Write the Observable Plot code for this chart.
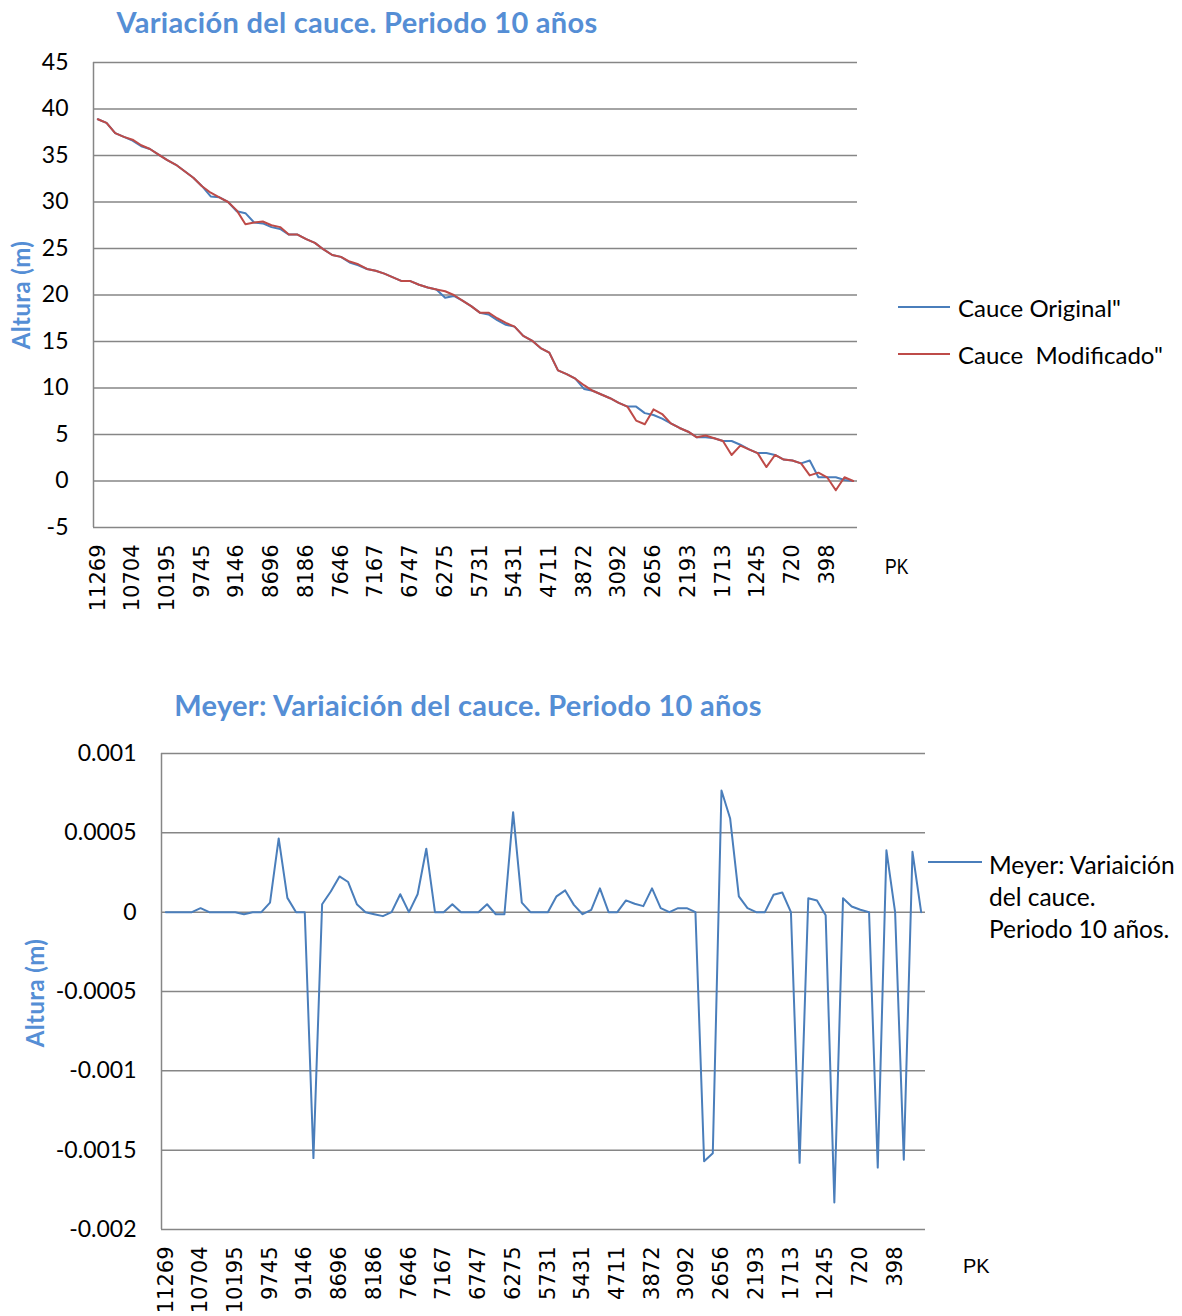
<!DOCTYPE html>
<html><head><meta charset="utf-8">
<script src="https://cdn.jsdelivr.net/npm/d3@7"></script>
<script src="https://cdn.jsdelivr.net/npm/@observablehq/plot@0.6"></script>
<style>
body{margin:0;background:#fff;}
#wrap{position:relative;width:1182px;height:1316px;overflow:hidden;}
#wrap svg{display:block;}
.t{position:absolute;font-family:Lato,"Open Sans",sans-serif;color:#000;white-space:nowrap;}
.title{font-weight:bold;font-size:29px;letter-spacing:0.3px;color:#558ED5;transform:translate(-50%,-50%);}
.ylab{font-weight:bold;font-size:24px;letter-spacing:0.4px;color:#558ED5;transform:translate(-50%,-50%) rotate(-90deg);}
.leg{font-size:24px;}
.sw{position:absolute;height:2px;}
</style></head><body><div id="wrap"></div>
<script>
// PK tick labels (every 4th category)
const pkLabels = ["11269","10704","10195","9745","9146","8696","8186","7646","7167","6747","6275","5731","5431","4711","3872","3092","2656","2193","1713","1245","720","398"];
const nCat = 88;

const cauceOriginal = [38.9,38.5,37.4,37.0,36.6,36.0,35.7,35.1,34.5,34.0,33.3,32.6,31.7,30.6,30.5,30.0,29.0,28.8,27.8,27.7,27.3,27.1,26.5,26.5,26.0,25.6,24.9,24.3,24.1,23.5,23.2,22.8,22.6,22.3,21.9,21.5,21.5,21.1,20.8,20.6,19.7,19.9,19.4,18.8,18.1,17.9,17.3,16.8,16.6,15.6,15.1,14.3,13.8,11.9,11.5,11.0,9.9,9.7,9.3,8.9,8.4,8.0,8.0,7.3,7.1,6.7,6.2,5.7,5.3,4.7,4.7,4.6,4.3,4.3,3.9,3.4,3.0,3.0,2.8,2.3,2.2,1.9,2.2,0.4,0.4,0.4,0.1,0.0];

const cauceModificado = [38.9,38.5,37.4,37.0,36.7,36.1,35.7,35.1,34.5,34.0,33.3,32.6,31.7,31.0,30.5,30.0,29.1,27.6,27.8,27.9,27.5,27.3,26.5,26.5,26.0,25.6,24.9,24.3,24.1,23.6,23.3,22.8,22.6,22.3,21.9,21.5,21.5,21.1,20.8,20.6,20.4,20.0,19.4,18.8,18.1,18.1,17.5,17.0,16.6,15.6,15.1,14.3,13.8,11.9,11.5,11.0,10.3,9.7,9.3,8.9,8.4,8.0,6.5,6.1,7.7,7.2,6.2,5.7,5.3,4.7,4.9,4.6,4.3,2.8,3.8,3.4,3.0,1.5,2.8,2.3,2.2,1.9,0.6,0.9,0.4,-1.0,0.4,0.0];

const meyer = [0,0,0,0,0.000025,0,0,0,0,-0.000013,0,0,0.00006,0.000465,0.00009,0,0,-0.00155,0.00005,0.00013,0.000225,0.00019,0.00005,0,-0.000013,-0.000025,0,0.000113,0,0.000113,0.0004,0,0,0.00005,0,0,0,0.00005,-0.000013,-0.000013,0.00063,0.00006,0,0,0,0.0001,0.000137,0.000046,-0.000013,0.000015,0.00015,0,0,0.000074,0.000053,0.000038,0.00015,0.000025,0,0.000025,0.000025,0,-0.00157,-0.00152,0.000767,0.00059,0.0001,0.000025,0,0,0.00011,0.000124,0,-0.00158,0.000088,0.000074,-0.00002,-0.00183,0.000088,0.000036,0.000015,0,-0.00161,0.00039,0,-0.00156,0.00038,0];

const yTicksTop = [45,40,35,30,25,20,15,10,5,0,-5];
const yTicksBottom = [0.001,0.0005,0,-0.0005,-0.001,-0.0015,-0.002];

const gridColor = "#868686";
const blue = "#4A7EBB";
const red = "#BE4B48";
const xTickIdx = pkLabels.map((_, k) => k * 4);
const xFmt = i => pkLabels[i / 4];
const yFmt = d => String(d);

function chart(series, colors, yDomain, yTicks, h, m) {
  return Plot.plot({
    width: 1182, height: h,
    marginLeft: m.l, marginRight: m.r, marginTop: m.t, marginBottom: m.b,
    x: {domain: [-0.5, nCat - 0.5], axis: null},
    y: {domain: yDomain, axis: null},
    marks: [
      Plot.gridY(yTicks, {stroke: gridColor, strokeOpacity: 1, strokeWidth: 1.5}),
      Plot.ruleX([-0.5], {stroke: gridColor, strokeWidth: 1.5}),
      Plot.axisY(yTicks, {tickSize: 0, tickPadding: 25, tickFormat: yFmt, fontSize: 23, fontFamily: "Lato", fill: "#000"}),
      Plot.axisX(xTickIdx, {tickSize: 0, tickPadding: 17, tickRotate: -90, tickFormat: xFmt, fontSize: 21, fontFamily: "DejaVu Sans", fill: "#000"}),
      ...series.map((s, k) => Plot.line(s, {x: (d, i) => i, y: d => d, stroke: colors[k], strokeWidth: 2}))
    ]
  });
}

const wrap = document.getElementById("wrap");
wrap.appendChild(chart([cauceOriginal, cauceModificado], [blue, red], [-5, 45], yTicksTop, 640, {l: 93, r: 325, t: 62, b: 113}));
wrap.appendChild(chart([meyer], [blue], [-0.002, 0.001], yTicksBottom, 676, {l: 161, r: 257, t: 113, b: 87}));

function addText(cls, txt, x, y, extra) {
  const d = document.createElement("div");
  d.className = "t " + cls;
  d.innerHTML = txt;
  d.style.left = x + "px"; d.style.top = y + "px";
  if (extra) Object.assign(d.style, extra);
  wrap.appendChild(d);
  return d;
}
function addSwatch(x, y, w, color) {
  const d = document.createElement("div");
  d.className = "sw";
  d.style.left = x + "px"; d.style.top = (y - 1) + "px"; d.style.width = w + "px"; d.style.background = color;
  wrap.appendChild(d);
}

addText("title", "Variación del cauce. Periodo 10 años", 357, 21);
addText("title", "Meyer: Variaición del cauce. Periodo 10 años", 468, 704);
addText("ylab", "Altura (m)", 20, 295);
addText("ylab", "Altura (m)", 34, 993);
addText("leg", "PK", 885, 554, {fontFamily: "Liberation Sans", fontSize: "22px", transform: "scaleX(0.8)", transformOrigin: "left"});
addText("leg", "PK", 963, 1255, {fontFamily: "Liberation Sans", fontSize: "20px"});

addSwatch(898, 307, 52, blue);
addSwatch(898, 354, 52, red);
addText("leg", "Cauce Original\"", 958, 307, {transform: "translateY(-50%)"});
addText("leg", "Cauce&nbsp; Modificado\"", 958, 354, {transform: "translateY(-50%)"});

addSwatch(928, 862, 54, blue);
addText("leg", "Meyer: Variaición<br>del cauce.<br>Periodo 10 años.", 989, 849, {lineHeight: "32px", fontSize: "24.5px"});
</script></body></html>
